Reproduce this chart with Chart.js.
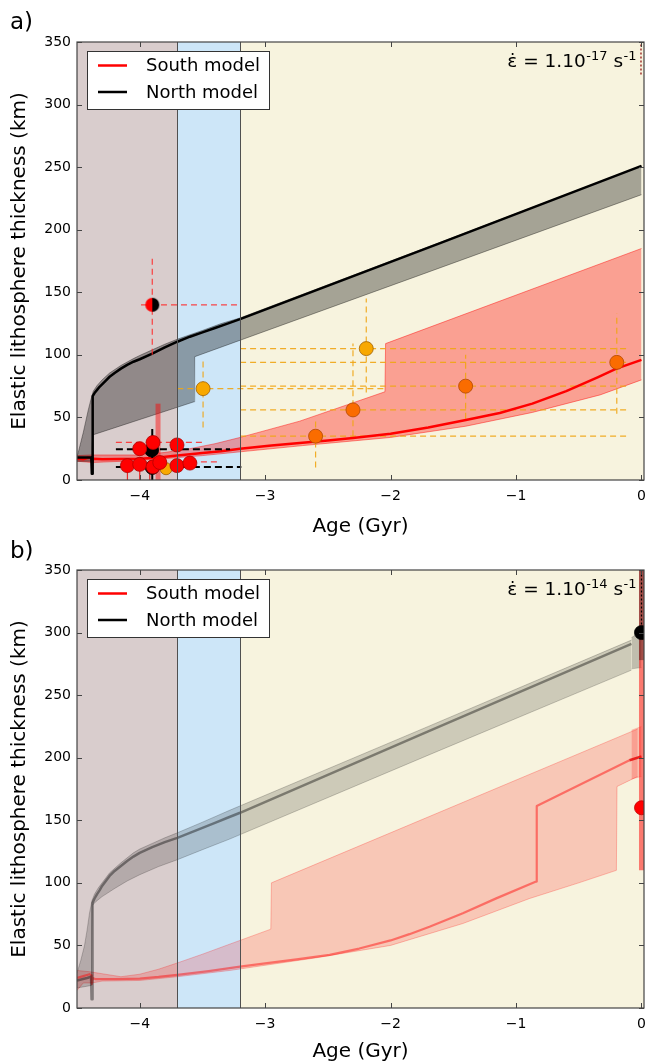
<!DOCTYPE html>
<html><head><meta charset="utf-8">
<script src="https://cdn.jsdelivr.net/npm/chart.js@4.4.1/dist/chart.umd.min.js"></script>
<style>
html,body{margin:0;padding:0;background:#fff;}
#wrap{position:relative;width:647px;height:1064px;overflow:hidden;}
canvas{position:absolute;left:0;}
</style></head><body>
<div id="wrap">
<canvas id="ca" width="647" height="545" style="top:0"></canvas>
<canvas id="cb" width="647" height="544" style="top:520px"></canvas>
</div>
<script>
// ================= DATA =================
const ageTicks = [-4, -3, -2, -1, 0];
const teTicks = [0, 50, 100, 150, 200, 250, 300, 350];
const eraBounds = [-4.5, -3.7, -3.2, 0.02];
const legendLabels = ['South model', 'North model'];

// ---- panel a (strain rate 1e-17) ----
const northLineA = [[-4.5,18],[-4.42,18],[-4.386,18],[-4.382,5],[-4.378,5],[-4.375,67],[-4.36,69.5],[-4.34,72],[-4.32,74.5],[-4.3,76.5],[-4.27,79.5],[-4.24,82.5],[-4.2,85.5],[-4.15,89],[-4.1,92],[-4.05,94.5],[-4.0,96.5],[-3.9,101],[-3.8,106],[-3.7,110.5],[-3.6,114.5],[-3.5,118],[-3.4,121.5],[-3.3,125],[-3.2,128.5],[-1.6,189.5],[0,251]];
const northUpperA = [[-4.5,19],[-4.49,22],[-4.47,30],[-4.45,38],[-4.43,47],[-4.41,56],[-4.39,64],[-4.37,71],[-4.34,75.5],[-4.3,80],[-4.24,85.5],[-4.15,91.5],[-4.05,97],[-4.0,99.5],[-3.9,104],[-3.8,108.5],[-3.7,112.5],[-3.5,119.5],[-3.35,125],[-3.2,129.5],[-1.6,190],[0,251]];
const northLowerA = [[-4.5,15],[-4.386,15],[-4.375,36],[-3.567,62.5],[-3.562,98.5],[-1.8,162.5],[0,228]];
const southLineA = [[-4.5,17],[-4.45,16.5],[-4.41,18],[-4.385,17.5],[-4.38,14],[-4.375,17],[-4.3,16.5],[-4.0,17],[-3.85,18],[-3.7,19.5],[-3.5,21.5],[-3.35,23],[-3.2,25],[-2.95,27.5],[-2.725,29.5],[-2.5,31.5],[-2.3,33.5],[-2.0,37],[-1.7,42],[-1.4,48],[-1.13,53.5],[-0.87,61],[-0.6,71],[-0.35,82],[-0.2,89],[0,96]];
const southUpperA = [[-4.5,19.5],[-4.38,20],[-4.0,20],[-3.8,22],[-3.6,25],[-3.4,29],[-3.2,34],[-2.725,47],[-2.045,70.5],[-2.04,109],[0,185]];
const southLowerA = [[-4.5,15],[-4.38,14],[-4.0,15.5],[-3.5,19.5],[-3.2,22.5],[-2.7,27.5],[-2.0,34],[-1.4,43],[-0.87,54],[-0.33,68],[0,80]];

// observations, panel a
const goldAgeA = [-3.495, -2.194, -3.79];
const goldTeA = [73, 105, 9];
const darkOrangeAgeA = [-2.598, -2.30, -1.402, -0.197];
const darkOrangeTeA = [35, 56, 75, 94];
const obsAgeA = [-3.495, -2.194, -2.598, -2.30, -1.402, -0.197];
const obsTeA = [73, 105, 35, 56, 75, 94];
const obsAgeLoA = [-3.7, -3.2, -3.2, -3.2, -3.2, -3.2];
const obsAgeHiA = [-2.05, -0.1, -0.1, -0.1, -0.1, -0.1];
const obsTeLoA = [42, 70, 10, 35, 49, 53];
const obsTeHiA = [97, 145, 48, 109, 100, 133];
const redAgeA = [-4.098, -4.0, -3.894, -3.84, -3.703, -3.60, -4.0, -3.894, -3.703];
const redTeA = [11.5, 12.5, 10.5, 14, 11.5, 13.5, 25, 30, 28];
const blackAgeA = [-3.905, -3.9];
const blackTeA = [24, 10];
const halfAgeA = [-3.9];
const halfTeA = [140];
const redDashA = [[[-3.99,140],[-3.2,140]], [[-3.9,100],[-3.9,180]], [[-4.19,30],[-3.5,30]], [[-4.15,14.5],[-3.36,14.5]]];
const blackDashA = [[[-4.19,24.5],[-3.28,24.5]], [[-4.19,10.3],[-3.19,10.3]], [[-3.9,0],[-3.9,42]]];
const redBarA = [[[-3.854,0],[-3.854,61]]];
const redThinA = [[[-4.098,0],[-4.098,12]], [[-4.0,0],[-4.0,12]], [[-3.92,0],[-3.92,10]]];
const topDotA = [[[-0.004,324],[-0.004,350]]];

// ---- panel b (strain rate 1e-14) ----
const northLineB = [[-4.5,22],[-4.42,24],[-4.388,25],[-4.384,7],[-4.379,7],[-4.376,84],[-4.36,87.5],[-4.34,91],[-4.32,94],[-4.3,97.5],[-4.27,101.5],[-4.24,105.5],[-4.2,109.5],[-4.15,113.5],[-4.1,117.5],[-4.05,121],[-4.0,124],[-3.9,128.5],[-3.8,132.5],[-3.7,136],[-3.6,140],[-3.5,144],[-3.4,148],[-3.3,152],[-3.2,156],[-1.7,221],[-0.08,291]];
const northUpperB = [[-4.5,28],[-4.47,38],[-4.44,50],[-4.42,62],[-4.40,76],[-4.38,86],[-4.36,91],[-4.33,96],[-4.3,100],[-4.24,108],[-4.15,116],[-4.05,124],[-4.0,127],[-3.9,131.5],[-3.8,136],[-3.7,140],[-3.5,148.5],[-3.283,158],[-1.7,225],[-0.08,294]];
const northLowerB = [[-4.5,16],[-4.386,18],[-4.378,82],[-4.35,85],[-4.3,89],[-4.2,95.5],[-4.1,101.5],[-4.0,106.5],[-3.85,113],[-3.7,118.5],[-3.5,126.5],[-3.283,135],[-1.7,202],[-0.08,270]];
const northBoxUpperB = [[-0.08,296],[0,301]];
const northBoxLowerB = [[-0.08,271],[0,272]];
const southLineB = [[-4.5,24],[-4.45,25.5],[-4.40,27],[-4.386,26],[-4.382,19],[-4.376,24],[-4.35,23],[-4.2,23],[-4.0,23.5],[-3.85,24.8],[-3.7,26.5],[-3.45,29.5],[-3.2,33],[-3.0,35.7],[-2.75,38.8],[-2.486,42.4],[-2.25,47.5],[-2.0,54],[-1.85,59],[-1.69,65],[-1.424,75.7],[-1.158,87.6],[-0.84,101],[-0.835,161.5],[-0.096,198]];
const southEndB = [[-0.096,198],[0,201]];
const southUpperB = [[-4.5,30],[-4.4,29],[-4.15,25],[-4.0,27],[-3.85,31],[-3.7,36],[-3.5,43],[-3.283,51],[-2.955,63],[-2.95,100],[-0.03,223]];
const southLowerB = [[-4.5,14],[-4.45,20],[-4.38,20],[-4.3,21.5],[-4.0,22],[-3.7,25],[-3.283,30],[-2.6,40],[-2.0,50],[-1.424,67.5],[-0.892,87.5],[-0.5,100],[-0.2,110],[-0.195,177],[-0.03,185]];
const southBoxUpperB = [[-0.08,222],[0,225]];
const southBoxLowerB = [[-0.08,183],[0,185]];
const redObsAgeB = [0];
const redObsTeB = [160];
const blackObsAgeB = [0];
const blackObsTeB = [300];
const redBarB = [[[0,110],[0,350]]];
const blackBarB = [[[0,278],[0,350]]];
const blackDotB = [[[0,300],[0,350]]];

// ================= HELPERS =================
Chart.defaults.font.family = "'DejaVu Sans', sans-serif";
Chart.defaults.color = '#000';

const pts = arr => arr.map(([x, y]) => ({x, y}));
const zip = (xs, ys) => xs.map((x, i) => ({x, y: ys[i]}));
const segs = list => {
  const out = [];
  list.forEach(s => { s.forEach(([x, y]) => out.push({x, y})); out.push({x: s[s.length-1][0], y: null}); });
  return out;
};
function lineDS(data, color, width, order, extra) {
  return Object.assign({type: 'line', data, borderColor: color, borderWidth: width, pointRadius: 0,
    pointHoverRadius: 0, fill: false, tension: 0, order, spanGaps: false, borderJoinStyle: 'round'}, extra || {});
}
function addBand(list, upper, lower, fillColor, edgeColor, order) {
  const i = list.length;
  list.push(lineDS(pts(upper), edgeColor, 0.8, order, {fill: i + 1, backgroundColor: fillColor}));
  list.push(lineDS(pts(lower), edgeColor, 0.8, order));
}
function pointDS(data, bg, border, r, order, style) {
  return {type: 'line', data, showLine: false, pointRadius: r, pointHoverRadius: r,
    pointBackgroundColor: bg, pointBorderColor: border, pointBorderWidth: 0.8, order,
    pointStyle: style || 'circle'};
}
function halfCircle(r) {
  const c = document.createElement('canvas');
  const s = 2 * r + 2; c.width = c.height = s;
  const g = c.getContext('2d'); const m = s / 2;
  g.fillStyle = '#ff0000'; g.beginPath(); g.arc(m, m, r, Math.PI / 2, Math.PI * 1.5); g.closePath(); g.fill();
  g.fillStyle = '#000'; g.beginPath(); g.arc(m, m, r, -Math.PI / 2, Math.PI / 2); g.closePath(); g.fill();
  return c;
}
const minus = v => (v < 0 ? '\u2212' + Math.abs(v) : String(v));

function decoPlugin(label, labelBaseline, exponent) {
  return {
    id: 'deco',
    beforeDatasetsDraw(chart) {
      const {ctx, chartArea: a, scales: {x}} = chart;
      const fills = ['#d9cdcd', '#cde6f8', '#f7f3de'];
      ctx.save();
      for (let i = 0; i < eraBounds.length - 1; i++) {
        const x0 = Math.max(a.left, x.getPixelForValue(eraBounds[i]));
        const x1 = Math.min(a.right, x.getPixelForValue(eraBounds[i + 1]));
        ctx.fillStyle = fills[i];
        ctx.fillRect(x0, a.top, x1 - x0, a.height);
      }
      ctx.restore();
    },
    afterDatasetsDraw(chart) {
      const {ctx, chartArea: a, scales: {x, y}} = chart;
      ctx.save();
      ctx.strokeStyle = '#505050'; ctx.lineWidth = 1;
      for (let i = 1; i < eraBounds.length - 1; i++) {
        const px = Math.round(x.getPixelForValue(eraBounds[i])) + 0.5;
        ctx.beginPath(); ctx.moveTo(px, a.top); ctx.lineTo(px, a.bottom); ctx.stroke();
      }
      ctx.strokeStyle = '#444'; ctx.lineWidth = 1.2;
      ctx.strokeRect(a.left, a.top, a.width, a.height);
      ctx.lineWidth = 1;
      ageTicks.forEach(v => {
        const px = Math.round(x.getPixelForValue(v)) + 0.5;
        ctx.beginPath(); ctx.moveTo(px, a.bottom); ctx.lineTo(px, a.bottom - 5);
        ctx.moveTo(px, a.top); ctx.lineTo(px, a.top + 5); ctx.stroke();
      });
      teTicks.forEach(v => {
        const py = Math.round(y.getPixelForValue(v)) + 0.5;
        ctx.beginPath(); ctx.moveTo(a.left, py); ctx.lineTo(a.left + 5, py);
        ctx.moveTo(a.right, py); ctx.lineTo(a.right - 5, py); ctx.stroke();
      });
      // legend
      const bx = 87, by = a.top + 9, bw = 182, bh = 58;
      ctx.fillStyle = '#fff'; ctx.fillRect(bx, by, bw, bh);
      ctx.strokeStyle = '#333'; ctx.lineWidth = 1; ctx.strokeRect(bx + 0.5, by + 0.5, bw, bh);
      const cols = ['#ff0000', '#000000'];
      legendLabels.forEach((t, i) => {
        const ly = by + 14.5 + i * 26.5;
        ctx.strokeStyle = cols[i]; ctx.lineWidth = 2.5;
        ctx.beginPath(); ctx.moveTo(98, ly); ctx.lineTo(127, ly); ctx.stroke();
        ctx.fillStyle = '#000'; ctx.font = "18px 'DejaVu Sans'"; ctx.textBaseline = 'middle'; ctx.textAlign = 'left';
        ctx.fillText(t, 146, ly + 1);
      });
      // strain-rate annotation
      const main = '\u03B5\u0307 = 1.10', s = ' s';
      const bigF = "18.5px 'DejaVu Sans'", supF = "13px 'DejaVu Sans'";
      ctx.font = bigF; const w1 = ctx.measureText(main).width, w3 = ctx.measureText(s).width;
      ctx.font = supF; const w2 = ctx.measureText(exponent).width, w4 = ctx.measureText('-1').width;
      let tx = a.right - 7.5 - (w1 + w2 + w3 + w4 + 1);
      const base = a.top + 25;
      ctx.textBaseline = 'alphabetic'; ctx.fillStyle = '#000';
      ctx.font = bigF; ctx.fillText(main, tx, base); tx += w1 + 0.5;
      ctx.font = supF; ctx.fillText(exponent, tx, base - 7.5); tx += w2;
      ctx.font = bigF; ctx.fillText(s, tx, base); tx += w3 + 0.5;
      ctx.font = supF; ctx.fillText('-1', tx, base - 7.5);
      ctx.restore();
    },
    afterDraw(chart) {
      const ctx = chart.ctx;
      ctx.save();
      ctx.font = "23px 'DejaVu Sans'"; ctx.fillStyle = '#000'; ctx.textBaseline = 'alphabetic';
      ctx.fillText(label, 10, labelBaseline);
      ctx.restore();
    }
  };
}

function makeOptions(padTop, xHeight, titlePadBottom) {
  return {
    responsive: false, animation: false, devicePixelRatio: 1, events: [],
    layout: {autoPadding: false, padding: {top: padTop, right: 3, left: 0, bottom: 0}},
    plugins: {legend: {display: false}, tooltip: {enabled: false}},
    scales: {
      x: {type: 'linear', min: -4.5, max: 0.02,
        grid: {display: false, drawTicks: false}, border: {display: false},
        afterBuildTicks: s => { s.ticks = ageTicks.map(v => ({value: v})); },
        afterFit: s => { s.height = xHeight; s.paddingRight = 0; s.paddingLeft = 0; },
        ticks: {autoSkip: false, maxRotation: 0, padding: 8, font: {size: 14}, color: '#000', callback: v => minus(v)},
        title: {display: true, text: 'Age (Gyr)', font: {size: 20}, color: '#000', padding: {top: 0, bottom: titlePadBottom}}},
      y: {type: 'linear', min: 0, max: 350,
        grid: {display: false, drawTicks: false}, border: {display: false},
        afterBuildTicks: s => { s.ticks = teTicks.map(v => ({value: v})); },
        afterFit: s => { s.width = 77; s.paddingTop = 0; s.paddingBottom = 0; },
        ticks: {autoSkip: false, padding: 6, font: {size: 14}, color: '#000'},
        title: {display: true, text: 'Elastic lithosphere thickness (km)', font: {size: 20}, color: '#000', padding: {top: 8, bottom: 0}}}
    }
  };
}

// ================= PANEL A =================
const dsA = [];
addBand(dsA, northUpperA, northLowerA, 'rgba(0,0,0,0.33)', 'rgba(0,0,0,0.45)', 60);
addBand(dsA, southUpperA, southLowerA, 'rgba(255,0,0,0.34)', 'rgba(255,0,0,0.55)', 60);
dsA.push(lineDS(segs(obsAgeA.map((x, i) => [[obsAgeLoA[i], obsTeA[i]], [obsAgeHiA[i], obsTeA[i]]])), 'rgba(240,165,20,0.9)', 1.2, 50, {borderDash: [6, 4]}));
dsA.push(lineDS(segs(obsAgeA.map((x, i) => [[x, obsTeLoA[i]], [x, obsTeHiA[i]]])), 'rgba(240,165,20,0.9)', 1.2, 50, {borderDash: [6, 4]}));
dsA.push(lineDS(pts(northLineA), '#000000', 2.5, 40));
dsA.push(lineDS(pts(southLineA), '#ff0000', 2.5, 40));
dsA.push(lineDS(segs(redDashA), 'rgba(255,40,40,0.85)', 1.2, 30, {borderDash: [6, 4]}));
dsA.push(lineDS(segs(blackDashA), '#000000', 2, 30, {borderDash: [7, 4]}));
dsA.push(lineDS(segs(redBarA), 'rgba(255,0,0,0.45)', 5, 30));
dsA.push(lineDS(segs(redThinA), 'rgba(230,0,0,0.8)', 1.2, 30));
dsA.push(lineDS(segs(topDotA), '#8b0000', 1.2, 30, {borderDash: [2, 2]}));
dsA.push(pointDS(zip(blackAgeA, blackTeA), '#000000', '#000000', 7, 12));
dsA.push(pointDS(zip(goldAgeA.slice(2), goldTeA.slice(2)), '#f8a800', '#a06000', 6, 11));
dsA.push(pointDS(zip(redAgeA, redTeA), '#ff0000', '#b00000', 7, 10));
dsA.push(pointDS(zip(goldAgeA.slice(0, 2), goldTeA.slice(0, 2)), '#f8a800', '#a06000', 7, 10));
dsA.push(pointDS(zip(darkOrangeAgeA, darkOrangeTeA), '#fa6c00', '#b04800', 7, 10));
dsA.push(pointDS(zip(halfAgeA, halfTeA), '#ff0000', '#000', 7, 9, halfCircle(7)));

new Chart(document.getElementById('ca'), {
  type: 'line', data: {datasets: dsA},
  options: makeOptions(42, 65, 6),
  plugins: [decoPlugin('a)', 29, '-17')]
});

// ================= PANEL B =================
const dsB = [];
addBand(dsB, northUpperB, northLowerB, 'rgba(0,0,0,0.17)', 'rgba(0,0,0,0.25)', 60);
addBand(dsB, northBoxUpperB, northBoxLowerB, 'rgba(0,0,0,0.22)', 'rgba(0,0,0,0.2)', 59);
addBand(dsB, southUpperB, southLowerB, 'rgba(255,0,0,0.18)', 'rgba(255,0,0,0.3)', 60);
addBand(dsB, southBoxUpperB, southBoxLowerB, 'rgba(255,0,0,0.2)', 'rgba(255,0,0,0.2)', 59);
dsB.push(lineDS(pts(northLineB), 'rgba(0,0,0,0.4)', 2.5, 40));
dsB.push(lineDS(pts(southLineB), 'rgba(255,0,0,0.45)', 2.2, 40));
dsB.push(lineDS(pts(southEndB), 'rgba(230,0,0,0.8)', 2.5, 39));
dsB.push(lineDS(segs(redBarB), 'rgba(255,0,0,0.5)', 5, 30));
dsB.push(lineDS(segs(blackBarB), 'rgba(0,0,0,0.35)', 5, 29));
dsB.push(lineDS(segs(blackDotB), '#000', 1.2, 28, {borderDash: [2, 2]}));
dsB.push(pointDS(zip(blackObsAgeB, blackObsTeB), '#000000', '#000', 7, 10));
dsB.push(pointDS(zip(redObsAgeB, redObsTeB), '#ff0000', '#c00000', 7, 10));

new Chart(document.getElementById('cb'), {
  type: 'line', data: {datasets: dsB},
  options: makeOptions(50, 56, 0),
  plugins: [decoPlugin('b)', 38, '-14')]
});
</script>
</body></html>
